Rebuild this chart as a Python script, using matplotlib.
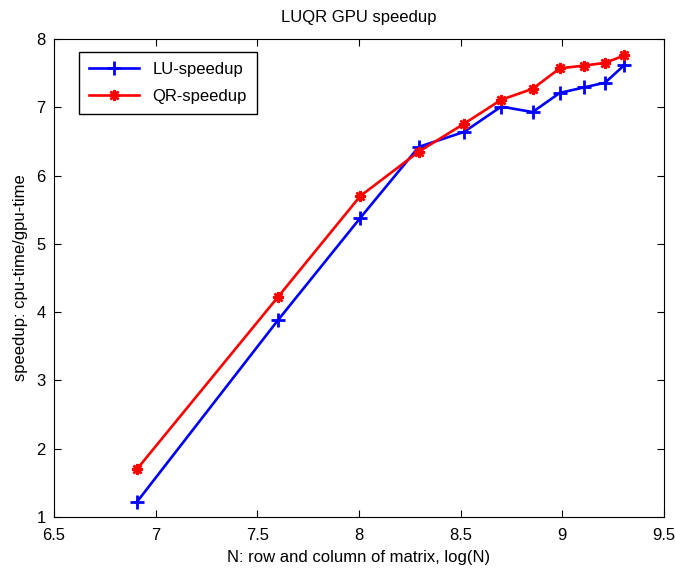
import matplotlib
matplotlib.use('Agg')
import matplotlib.pyplot as plt
import numpy as np

plt.rcParams['font.family'] = ['Liberation Sans', 'DejaVu Sans']

# matrix sizes, x axis is log(N)
N = [1000, 2000, 3000, 4000, 5000, 6000, 7000, 8000, 9000, 10000, 11000]
lu_speedup = [1.22, 3.88, 5.38, 6.42, 6.64, 7.01, 6.93, 7.21, 7.29, 7.36, 7.62]
qr_speedup = [1.70, 4.22, 5.70, 6.35, 6.76, 7.11, 7.27, 7.57, 7.61, 7.65, 7.76]

logN = np.log(N)

fig = plt.figure(figsize=(6.75, 5.7), dpi=100)
ax = fig.add_axes([0.08, 0.093, 0.9037, 0.8386])

ax.plot(logN, lu_speedup, color='#0000ff', linewidth=1.9, marker='+',
        markersize=10, markeredgewidth=2.0, label='LU-speedup')
ax.plot(logN, qr_speedup, color='#ff0000', linewidth=1.9, marker=(8, 2, 0),
        markersize=8, markeredgewidth=1.8, label='QR-speedup')

ax.set_xlim(6.5, 9.5)
ax.set_ylim(1, 8)
ax.set_xticks(np.arange(6.5, 9.51, 0.5))
ax.set_xticklabels(['6.5', '7', '7.5', '8', '8.5', '9', '9.5'])
ax.set_yticks(range(1, 9))
ax.tick_params(direction='in', top=True, right=True, labelsize=12, length=5)
ax.tick_params(axis='x', pad=8)
ax.tick_params(axis='y', pad=6)

ax.set_title('LUQR GPU speedup', fontsize=12, pad=12)
ax.set_xlabel('N: row and column of matrix, log(N)', fontsize=12, labelpad=5)
ax.set_ylabel('speedup: cpu-time/gpu-time', fontsize=12, labelpad=6)

leg = ax.legend(loc='upper left', bbox_to_anchor=(0.041, 0.973), fontsize=12,
                fancybox=False, framealpha=1, edgecolor='black',
                handlelength=3.0, borderpad=0.6, labelspacing=0.7,
                borderaxespad=0)
leg.get_frame().set_linewidth(1.0)

fig.savefig('out.png', dpi=100)
